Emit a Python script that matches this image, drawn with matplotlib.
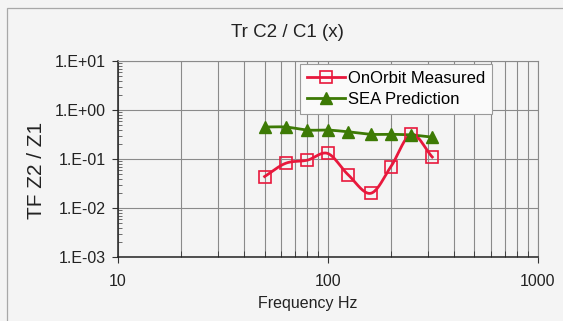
import matplotlib.pyplot as plt
import numpy as np
from matplotlib.patches import Rectangle
from matplotlib.ticker import LogLocator, NullFormatter

plt.rcParams['font.family'] = ['Liberation Sans', 'DejaVu Sans']

# third-octave band centres
freq = [50, 63, 80, 100, 125, 160, 200, 250, 315]
measured = [0.044, 0.082, 0.095, 0.13, 0.048, 0.020, 0.070, 0.32, 0.11]
predicted = [0.45, 0.45, 0.39, 0.39, 0.36, 0.32, 0.32, 0.31, 0.28]

y_ticks = [1e-3, 1e-2, 1e-1, 1e0, 1e1]
y_labels = ['1.E-03', '1.E-02', '1.E-01', '1.E+00', '1.E+01']
x_ticks = [10, 100, 1000]
x_labels = ['10', '100', '1000']


def smooth(xs, ys, n=20):
    # excel-style smoothed line: catmull-rom through the points in log space
    lx = np.log10(xs)
    ly = np.log10(ys)
    px = np.concatenate([[2 * lx[0] - lx[1]], lx, [2 * lx[-1] - lx[-2]]])
    py = np.concatenate([[2 * ly[0] - ly[1]], ly, [2 * ly[-1] - ly[-2]]])
    outx, outy = [], []
    t = np.linspace(0, 1, n, endpoint=False)
    for i in range(1, len(px) - 2):
        for p, out in ((px, outx), (py, outy)):
            p0, p1, p2, p3 = p[i - 1], p[i], p[i + 1], p[i + 2]
            out.extend(0.5 * (2 * p1 + (-p0 + p2) * t
                              + (2 * p0 - 5 * p1 + 4 * p2 - p3) * t ** 2
                              + (-p0 + 3 * p1 - 3 * p2 + p3) * t ** 3))
    outx.append(lx[-1])
    outy.append(ly[-1])
    return 10 ** np.array(outx), 10 ** np.array(outy)


bg = '#f4f4f4'
red = '#e8183c'
green = '#3d7a05'

fig = plt.figure(figsize=(5.63, 3.21), dpi=100, facecolor=bg)
fig.patches.append(Rectangle((7 / 563, -0.05), 1.2, 1 - 8 / 321 + 0.05,
                             transform=fig.transFigure, fill=False,
                             edgecolor='#a8a8a8', lw=0.9))

ax = fig.add_axes([118 / 563, 0.199, (537.5 - 118) / 563, 0.611])
ax.set_facecolor(bg)
ax.set_xscale('log')
ax.set_yscale('log')
ax.set_xlim(10, 1000)
ax.set_ylim(1e-3, 1e1)

ax.xaxis.set_minor_locator(LogLocator(base=10, subs=np.arange(2, 10)))
ax.xaxis.set_minor_formatter(NullFormatter())
ax.yaxis.set_minor_locator(LogLocator(base=10, subs=np.arange(2, 10)))
ax.yaxis.set_minor_formatter(NullFormatter())
ax.grid(True, which='major', axis='both', color='#8a8a8a', lw=0.8)
ax.grid(True, which='minor', axis='x', color='#8a8a8a', lw=0.8)
ax.set_axisbelow(True)

ax.set_xticks(x_ticks, x_labels)
ax.set_yticks(y_ticks, y_labels)
ax.tick_params(axis='both', which='major', labelsize=11.5, length=4,
               direction='out', color='#333333', labelcolor='#222222')
ax.tick_params(axis='x', which='major', pad=8)
ax.tick_params(axis='y', which='major', pad=5)
ax.tick_params(axis='y', which='minor', length=3, direction='in', color='#555555')
ax.tick_params(axis='x', which='minor', length=4, direction='in', color='#333333')

for side in ('top', 'right'):
    ax.spines[side].set_color('#8a8a8a')
    ax.spines[side].set_linewidth(0.8)
for side in ('left', 'bottom'):
    ax.spines[side].set_color('#222222')
    ax.spines[side].set_linewidth(1.1)

sx, sy = smooth(freq, measured)
ax.plot(sx, sy, color=red, lw=2, zorder=3)
ax.plot(freq, measured, ls='none', marker='s', ms=8, mfc='none',
        mec=red, mew=1.2, zorder=4)
gx, gy = smooth(freq, predicted)
ax.plot(gx, gy, color=green, lw=2, zorder=3)
ax.plot(freq, predicted, ls='none', marker='^', ms=9, color=green, zorder=4)

# legend handles combining line + marker
h1, = ax.plot([], [], color=red, lw=2, marker='s', ms=8, mfc='none',
              mec=red, mew=1.2)
h2, = ax.plot([], [], color=green, lw=2, marker='^', ms=9)
leg = ax.legend([h1, h2], ['OnOrbit Measured', 'SEA Prediction'],
                loc='upper left', bbox_to_anchor=(0.435, 0.985),
                fontsize=12, fancybox=False, framealpha=1,
                edgecolor='#9a9a9a', facecolor='#fafafa',
                handlelength=2.3, handletextpad=0.15, borderpad=0.4,
                labelspacing=0.4, borderaxespad=0)
leg.get_frame().set_linewidth(0.8)

fig.text(0.51, 0.9, 'Tr C2 / C1 (x)', ha='center', va='center',
         fontsize=13.5, color='#222222')
fig.text(308 / 563, 0.056, 'Frequency Hz', ha='center', va='center',
         fontsize=11.5, color='#222222')
fig.text(37 / 563, 0.47, 'TF Z2 / Z1', ha='center', va='center',
         rotation=90, fontsize=15, color='#222222')

fig.savefig('out.png', dpi=100, facecolor=bg)
